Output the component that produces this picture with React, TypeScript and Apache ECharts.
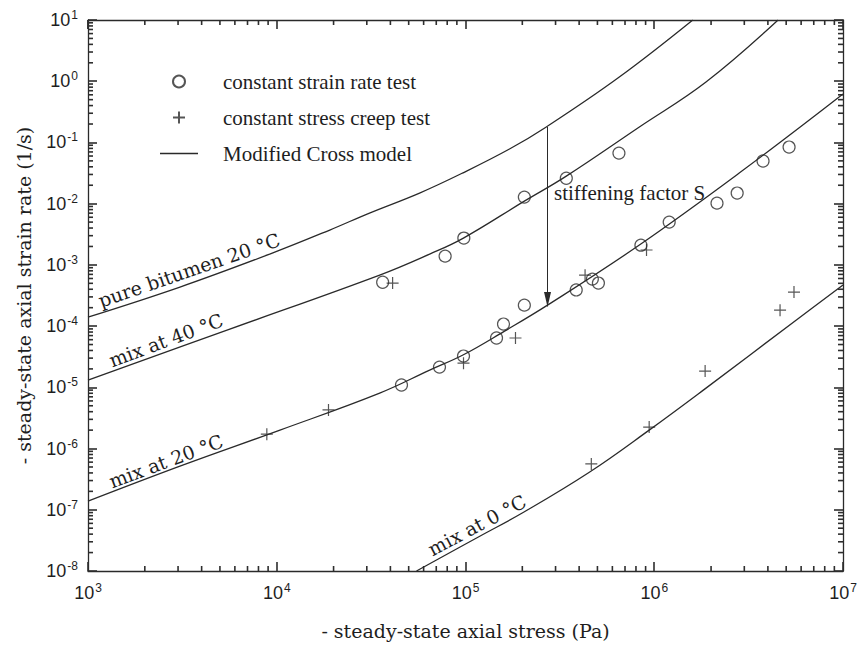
import React, { useEffect, useRef } from 'react';
import * as echarts from 'echarts';

// ---------------- data ----------------
const X_MIN = 1e3;
const X_MAX = 1e7;
const Y_MIN = 1e-8;
const Y_MAX = 1e1;

const MINOR_MULTIPLIERS = [2, 3, 4, 5, 6, 7, 8, 9];
const X_DECADES = [1e3, 1e4, 1e5, 1e6, 1e7];
const Y_DECADES = [1e-8, 1e-7, 1e-6, 1e-5, 1e-4, 1e-3, 1e-2, 1e-1, 1e0, 1e1];

// Modified Cross model curves [stress (Pa), strain rate (1/s)]
const pureBitumen20: [number, number][] = [
  [1e3, 1.40e-4], [3.07e3, 4.34e-4], [9.18e3, 1.50e-3], [1.91e4, 3.71e-3], [3.10e4, 7.02e-3],
  [5.71e4, 0.0149], [9.64e4, 0.0316], [1.71e5, 0.078], [2.68e5, 0.179], [6.53e5, 1.17], [1.6e6, 10],
];
const mix40: [number, number][] = [
  [1e3, 1.31e-5], [5.64e3, 8.93e-5], [3.51e4, 6.81e-4], [6.46e4, 1.5e-3], [9.75e4, 2.74e-3],
  [2.05e5, 0.0110], [3.42e5, 0.0282], [8.34e5, 0.179], [1.88e6, 0.97], [4.53e6, 10],
];
const mix20: [number, number][] = [
  [1e3, 1.38e-7], [3.07e3, 5.15e-7], [1.04e4, 2.0e-6], [3.51e4, 8.04e-6], [6.46e4, 1.91e-5],
  [9.75e4, 3.4e-5], [1.61e5, 8.28e-5], [2.72e5, 2.2e-4], [8.34e5, 2.11e-3], [2.82e6, 0.0316], [1e7, 0.618],
];
const mix0: [number, number][] = [
  [5.5e4, 1e-8], [1.19e5, 3.7e-8], [2.03e5, 9.1e-8], [4.53e5, 4.1e-7], [9.4e5, 2.0e-6],
  [1.82e6, 9.0e-6], [5.64e6, 1.25e-4], [1e7, 4.7e-4],
];

// constant strain rate tests (circles)
const strainRateTests: [number, number][] = [
  [3.64e4, 5.2e-4], [7.8e4, 1.39e-3], [9.8e4, 2.74e-3], [2.05e5, 0.0128], [3.42e5, 0.026], [6.5e5, 0.067],
  [4.58e4, 1.09e-5], [7.28e4, 2.14e-5], [9.76e4, 3.24e-5], [1.46e5, 6.4e-5], [1.59e5, 1.08e-4],
  [2.05e5, 2.2e-4], [3.86e5, 3.9e-4], [4.7e5, 5.86e-4], [5.06e5, 5.05e-4], [8.5e5, 2.1e-3],
  [1.2e6, 5e-3], [2.15e6, 0.0102], [2.75e6, 0.0149], [3.77e6, 0.0497], [5.18e6, 0.084],
];

// constant stress creep tests (plus)
const creepTests: [number, number][] = [
  [4.11e4, 5.05e-4], [8.86e3, 1.72e-6], [1.88e4, 4.27e-6], [9.76e4, 2.48e-5], [1.84e5, 6.4e-5],
  [4.3e5, 6.8e-4], [9.1e5, 1.75e-3], [4.64e5, 5.6e-7], [9.4e5, 2.24e-6], [1.86e6, 1.84e-5],
  [4.64e6, 1.82e-4], [5.5e6, 3.6e-4],
];

// stiffening arrow
const ARROW_STRESS = 2.72e5;
const ARROW_FROM = 0.18;
const ARROW_TO = 2.1e-4;

const NAME_CIRCLE = 'constant strain rate test';
const NAME_PLUS = 'constant stress creep test';
const NAME_MODEL = 'Modified Cross model';
const X_TITLE = '- steady-state axial stress (Pa)';
const Y_TITLE = '- steady-state axial strain rate (1/s)';

// ---------------- styles ----------------
const LINE = '#2a2a2a';
const TICK = '#2e2e2e';
const TEXT = '#1e1e1e';
const LABEL_FONT = '"Liberation Sans", Arial, sans-serif';
const TITLE_FONT = '"DejaVu Serif", serif';
const LEGEND_FONT = '"Liberation Serif", "Times New Roman", serif';

const X_MINOR = X_DECADES.slice(0, -1).flatMap((d) => MINOR_MULTIPLIERS.map((m) => m * d));
const Y_MINOR = Y_DECADES.slice(0, -1).flatMap((d) => MINOR_MULTIPLIERS.map((m) => m * d));

const expLabel = (v: number) => `{b|10}{s|${Math.round(Math.log10(v))}}`;
const labelRich = {
  b: { fontSize: 18, fontFamily: LABEL_FONT, color: TEXT, lineHeight: 22 },
  s: { fontSize: 12, fontFamily: LABEL_FONT, color: TEXT, verticalAlign: 'top', lineHeight: 12, padding: [0, 0, 0, 1] },
};

const deg = (d: number) => (d * Math.PI) / 180;

const curveLabels: any[] = [
  {
    id: 'lab-pure', type: 'text', x: 189, y: 270, rotation: deg(19),
    style: { text: 'pure bitumen 20 °C', fontFamily: TITLE_FONT, fontSize: 19, fill: TEXT, align: 'center', verticalAlign: 'middle' },
  },
  {
    id: 'lab-40', type: 'text', x: 166, y: 340, rotation: deg(20.5),
    style: { text: 'mix at 40 °C', fontFamily: TITLE_FONT, fontSize: 19, fill: TEXT, align: 'center', verticalAlign: 'middle' },
  },
  {
    id: 'lab-20', type: 'text', x: 166, y: 461, rotation: deg(20.5),
    style: { text: 'mix at 20 °C', fontFamily: TITLE_FONT, fontSize: 19, fill: TEXT, align: 'center', verticalAlign: 'middle' },
  },
  {
    id: 'lab-0', type: 'text', x: 477, y: 525, rotation: deg(28),
    style: { text: 'mix at 0 °C', fontFamily: TITLE_FONT, fontSize: 19, fill: TEXT, align: 'center', verticalAlign: 'middle' },
  },
  {
    id: 'lab-s', type: 'text', x: 554, y: 193,
    style: { text: 'stiffening factor S', fontFamily: LEGEND_FONT, fontSize: 21, fill: TEXT, align: 'left', verticalAlign: 'middle' },
  },
];

export default function App() {
  const ref = useRef<HTMLDivElement>(null);

  useEffect(() => {
    if (!ref.current) return;
    const chart = echarts.init(ref.current, undefined, { renderer: 'svg' });

    const modelSeries = (data: [number, number][]) => ({
      type: 'line',
      name: NAME_MODEL,
      data,
      symbol: 'none',
      showSymbol: false,
      smooth: 0.4,
      lineStyle: { color: LINE, width: 1.3 },
      itemStyle: { color: LINE },
      z: 3,
    });

    const axisCommon = {
      type: 'log',
      logBase: 10,
      axisLine: { show: true, lineStyle: { color: LINE, width: 1.3 } },
      axisTick: { show: true, inside: true, length: 9, lineStyle: { color: TICK, width: 1.6 } },
      splitLine: { show: false },
    };

    const option: any = {
      animation: false,
      backgroundColor: '#ffffff',
      grid: { left: 88, right: 14, top: 20, bottom: 76, outerBoundsMode: 'none' },
      legend: {
        orient: 'vertical',
        left: 160,
        top: 71,
        padding: 0,
        itemWidth: 38,
        itemHeight: 12,
        itemGap: 15,
        selectedMode: false,
        data: [
          { name: NAME_CIRCLE },
          { name: NAME_PLUS },
          { name: NAME_MODEL, icon: 'path://M0,0H38V1.3H0Z', itemStyle: { color: LINE, borderWidth: 0 } },
        ],
        textStyle: { fontFamily: LEGEND_FONT, fontSize: 21, color: TEXT, padding: [0, 0, 0, 20] },
      },
      xAxis: [
        {
          ...axisCommon,
          min: X_MIN,
          max: X_MAX,
          axisLabel: { margin: 11, formatter: expLabel, rich: labelRich },
          name: X_TITLE,
          nameLocation: 'middle',
          nameGap: 50,
          nameTextStyle: { fontFamily: TITLE_FONT, fontSize: 19, color: TEXT },
        },
        { ...axisCommon, min: X_MIN, max: X_MAX, position: 'top', axisLabel: { show: false } },
      ],
      yAxis: [
        {
          ...axisCommon,
          min: Y_MIN,
          max: Y_MAX,
          axisLabel: { margin: 10, formatter: expLabel, rich: labelRich },
          name: Y_TITLE,
          nameLocation: 'middle',
          nameGap: 55,
          nameTextStyle: { fontFamily: TITLE_FONT, fontSize: 19, color: TEXT },
        },
        { ...axisCommon, min: Y_MIN, max: Y_MAX, position: 'right', axisLabel: { show: false } },
      ],
      series: [
        modelSeries(pureBitumen20),
        modelSeries(mix40),
        modelSeries(mix20),
        modelSeries(mix0),
        {
          type: 'scatter',
          name: NAME_CIRCLE,
          data: strainRateTests,
          symbol: 'circle',
          symbolSize: 12,
          itemStyle: { color: 'rgba(255,255,255,0)', borderColor: LINE, borderWidth: 1.2 },
          z: 4,
        },
        {
          type: 'scatter',
          name: NAME_PLUS,
          data: creepTests,
          symbol: 'path://M0,6H12M6,0V12',
          symbolSize: 12,
          itemStyle: { color: 'rgba(255,255,255,0)', borderColor: LINE, borderWidth: 1.2 },
          z: 4,
        },
        {
          type: 'line',
          name: 'stiffening',
          data: [],
          markLine: {
            silent: true,
            symbol: ['none', 'triangle'],
            symbolSize: [7, 15],
            symbolOffset: [[0, 0], [0, 7]],
            label: { show: false },
            lineStyle: { color: LINE, width: 1, type: 'solid' },
            itemStyle: { color: LINE },
            emphasis: { disabled: true },
            data: [[{ coord: [ARROW_STRESS, ARROW_FROM] }, { coord: [ARROW_STRESS, ARROW_TO] }]],
          },
        },
      ],
      graphic: curveLabels,
    };

    chart.setOption(option);

    // minor tick marks (inside, all four sides) placed through the axes' own scales
    const toPx = (x: number, y: number) =>
      chart.convertToPixel({ xAxisIndex: 0, yAxisIndex: 0 }, [x, y]) as number[];
    const ticks: any[] = [];
    const LEN = 5;
    const tickStyle = () => ({ stroke: TICK, lineWidth: 1.6 });
    X_MINOR.forEach((v) => {
      const b = toPx(v, Y_MIN);
      const t = toPx(v, Y_MAX);
      ticks.push({ type: 'line', shape: { x1: b[0], y1: b[1], x2: b[0], y2: b[1] - LEN }, style: tickStyle() });
      ticks.push({ type: 'line', shape: { x1: t[0], y1: t[1], x2: t[0], y2: t[1] + LEN }, style: tickStyle() });
    });
    Y_MINOR.forEach((v) => {
      const l = toPx(X_MIN, v);
      const r = toPx(X_MAX, v);
      ticks.push({ type: 'line', shape: { x1: l[0], y1: l[1], x2: l[0] + LEN, y2: l[1] }, style: tickStyle() });
      ticks.push({ type: 'line', shape: { x1: r[0], y1: r[1], x2: r[0] - LEN, y2: r[1] }, style: tickStyle() });
    });

    chart.setOption({ graphic: [...curveLabels, ...ticks] });

    return () => chart.dispose();
  }, []);

  return (
    <div
      ref={ref}
      style={{ position: 'absolute', left: 0, top: 0, width: 857, height: 647, background: '#fff' }}
    />
  );
}
